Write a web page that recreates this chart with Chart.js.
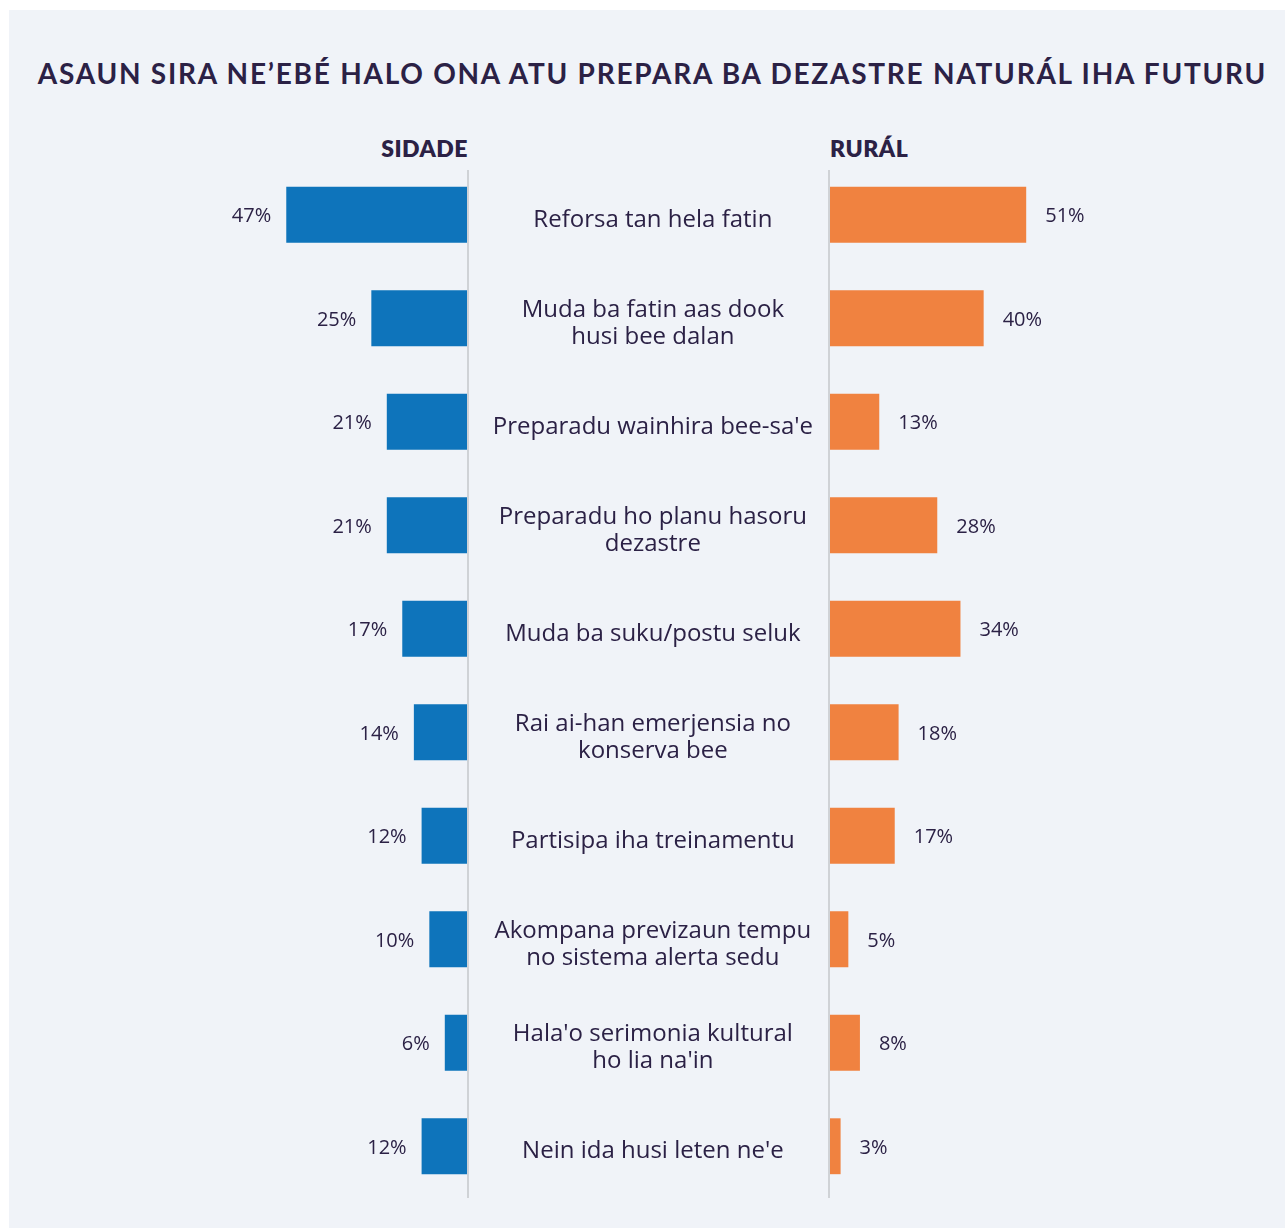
<!DOCTYPE html>
<html>
<head>
<meta charset="utf-8">
<script src="https://cdn.jsdelivr.net/npm/chart.js@4"></script>
<style>
  body { margin: 0; background: #ffffff; font-family: Lato, sans-serif; }
  #panel { position: absolute; left: 9px; top: 10px; width: 1276px; height: 1218px; background: #f0f3f8; }
  #title { position: absolute; left: 0; top: 56px; width: 1305px; text-align: center; font-size: 28px; font-weight: 700;
           letter-spacing: 1.75px; color: #2b2145; white-space: nowrap; }
  .head { position: absolute; top: 134px; font-size: 23px; font-weight: 800; color: #2b2145; letter-spacing: 0.5px; }
  #leftWrap { position: absolute; left: 0; top: 150px; width: 470px; height: 1060px; }
  #rightWrap { position: absolute; left: 470px; top: 150px; width: 815px; height: 1060px; }
</style>
</head>
<body>
<div id="panel"></div>
<div id="title">ASAUN SIRA NE’EBÉ HALO ONA ATU PREPARA BA DEZASTRE NATURÁL IHA FUTURU</div>
<div class="head" style="right: 817px;">SIDADE</div>
<div class="head" style="left: 830px;">RURÁL</div>
<div id="leftWrap"><canvas id="leftChart"></canvas></div>
<div id="rightWrap"><canvas id="rightChart"></canvas></div>
<script>
const labels = [
  'Reforsa tan hela fatin',
  ['Muda ba fatin aas dook', 'husi bee dalan'],
  "Preparadu wainhira bee-sa'e",
  ['Preparadu ho planu hasoru', 'dezastre'],
  'Muda ba suku/postu seluk',
  ['Rai ai-han emerjensia no', 'konserva bee'],
  'Partisipa iha treinamentu',
  ['Akompana previzaun tempu', 'no sistema alerta sedu'],
  ["Hala'o serimonia kultural", "ho lia na'in"],
  "Nein ida husi leten ne'e"
];
const sidade = [47, 25, 21, 21, 17, 14, 12, 10, 6, 12];
const rural = [51, 40, 13, 28, 34, 18, 17, 5, 8, 3];

const textColor = '#2b2145';

// value labels + the thin vertical axis line
const valueLabels = {
  id: 'valueLabels',
  afterDatasetsDraw(chart, args, opts) {
    const ctx = chart.ctx;
    const meta = chart.getDatasetMeta(0);
    const x0 = chart.scales.x.getPixelForValue(0);
    ctx.save();
    ctx.strokeStyle = '#cfd2d6';
    ctx.lineWidth = 2;
    ctx.beginPath();
    ctx.moveTo(x0, chart.chartArea.top + 7);
    ctx.lineTo(x0, chart.chartArea.bottom);
    ctx.stroke();
    ctx.fillStyle = textColor;
    ctx.font = '20px "Open Sans"';
    ctx.textBaseline = 'middle';
    meta.data.forEach((bar, i) => {
      const v = chart.data.datasets[0].data[i];
      if (opts.side === 'left') {
        ctx.textAlign = 'right';
        ctx.fillText(v + '%', bar.x - 15, bar.y + 2);
      } else {
        ctx.textAlign = 'left';
        ctx.fillText(v + '%', bar.x + 19, bar.y + 2);
      }
    });
    ctx.restore();
  }
};

new Chart(document.getElementById('leftChart'), {
  type: 'bar',
  data: {
    labels: labels,
    datasets: [{ data: sidade, backgroundColor: '#0e74bb', barPercentage: 1, categoryPercentage: 0.54 }]
  },
  options: {
    indexAxis: 'y',
    responsive: true,
    maintainAspectRatio: false,
    animation: false,
    layout: { padding: { left: 236, right: 2, top: 13, bottom: 12 } },
    scales: {
      x: { reverse: true, min: 0, max: 60, display: false },
      y: { display: false }
    },
    plugins: { legend: { display: false }, tooltip: { enabled: false }, valueLabels: { side: 'left' } }
  },
  plugins: [valueLabels]
});

new Chart(document.getElementById('rightChart'), {
  type: 'bar',
  data: {
    labels: labels,
    datasets: [{ data: rural, backgroundColor: '#f08240', barPercentage: 1, categoryPercentage: 0.54 }]
  },
  options: {
    indexAxis: 'y',
    responsive: true,
    maintainAspectRatio: false,
    animation: false,
    layout: { padding: { left: 0, right: 224, top: 13, bottom: 12 } },
    scales: {
      x: { min: 0, max: 60, display: false },
      y: {
        position: 'left',
        grid: { display: false, drawTicks: false },
        border: { display: false },
        afterFit(scale) {
          scale.width = 359;
          scale.paddingTop = 0;
          scale.paddingBottom = 0;
        },
        ticks: {
          color: textColor,
          font: { family: 'Open Sans', size: 24, lineHeight: 1.12 },
          crossAlign: 'center',
          padding: 16,
          labelOffset: 5
        }
      }
    },
    plugins: { legend: { display: false }, tooltip: { enabled: false }, valueLabels: { side: 'right' } }
  },
  plugins: [valueLabels]
});
</script>
</body>
</html>
